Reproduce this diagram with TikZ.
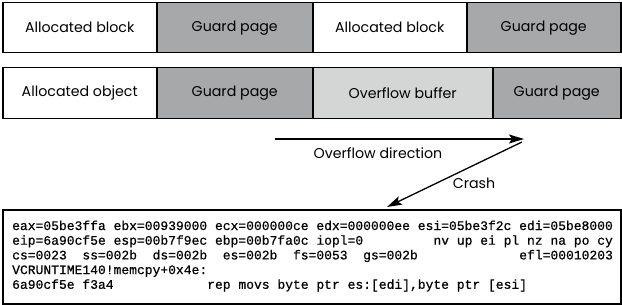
\documentclass[tikz,border=0pt]{standalone}
\usepackage{fontspec}
\setmainfont{Poppins}
\newfontfamily\codefont{Liberation Mono}[FakeBold=0.6]
\usetikzlibrary{arrows.meta}
\definecolor{guardgray}{RGB}{166,168,170}
\definecolor{bufgray}{RGB}{212,214,214}
\begin{document}
\begin{tikzpicture}[x=1pt,y=-1pt,
  cell/.style={draw, line width=1.5pt, inner sep=0pt, anchor=north west,
    minimum height=50pt, font=\fontsize{14.2}{16}\selectfont},
  guard/.style={cell, fill=guardgray},
  buf/.style={cell, fill=bufgray},
  lbl/.style={font=\fontsize{14.2}{16}\selectfont, inner sep=0pt},
  arr/.style={line width=1.3pt, -{Stealth[length=15pt,width=9pt,inset=3pt]}},
  codeline/.style={anchor=base west, inner sep=0pt, font=\codefont\fontsize{13}{15}\selectfont}]
\useasboundingbox (0,0) rectangle (622,305);
% row 1
\node[cell, minimum width=154pt] (ab1) at (2,2) {Allocated block};
\node[guard, minimum width=156pt] (gp1) at (156,2) {Guard page};
\node[cell, minimum width=154pt] (ab2) at (312,2) {Allocated block};
\node[guard, minimum width=154pt] (gp2) at (466,2) {Guard page};
% row 2
\node[cell, minimum width=154pt, minimum height=51pt] (ao) at (2,67) {Allocated object};
\node[guard, minimum width=156pt, minimum height=51pt] (gp3) at (156,67) {Guard page};
\node[buf, minimum width=180pt, minimum height=51pt] (ob) at (312,67) {Overflow buffer};
\node[guard, minimum width=128pt, minimum height=51pt] (gp4) at (492,67) {Guard page};
% arrows
\coordinate (ostart) at (275,139);
\coordinate (oend) at (524,139);
\coordinate (cstart) at (522,142);
\coordinate (cend) at (387,207);
\draw[arr] (ostart) -- (oend);
\draw[arr] (cstart) -- (cend);
\node[lbl] (odir) at (378,153) {Overflow direction};
\node[lbl] (crash) at (474,183) {Crash};
% code box
\node[draw, line width=1.5pt, anchor=north west, minimum width=618pt, minimum height=94pt, inner sep=0pt] (code) at (2,209) {};
\node[codeline] (l1) at (12,230) {eax=05be3ffa~ebx=00939000~ecx=000000ce~edx=000000ee~esi=05be3f2c~edi=05be8000};
\node[codeline] (l2) at (12,244.7) {eip=6a90cf5e~esp=00b7f9ec~ebp=00b7fa0c~iopl=0~~~~~~~~~nv~up~ei~pl~nz~na~po~cy};
\node[codeline] (l3) at (12,259.4) {cs=0023~~ss=002b~~ds=002b~~es=002b~~fs=0053~~gs=002b~~~~~~~~~~~~~efl=00010203};
\node[codeline] (l4) at (12,274.1) {VCRUNTIME140!memcpy+0x4e:};
\node[codeline] (l5) at (12,288.8) {6a90cf5e~f3a4~~~~~~~~~~~~rep~movs~byte~ptr~es:[edi],byte~ptr~[esi]};
\end{tikzpicture}
\end{document}
